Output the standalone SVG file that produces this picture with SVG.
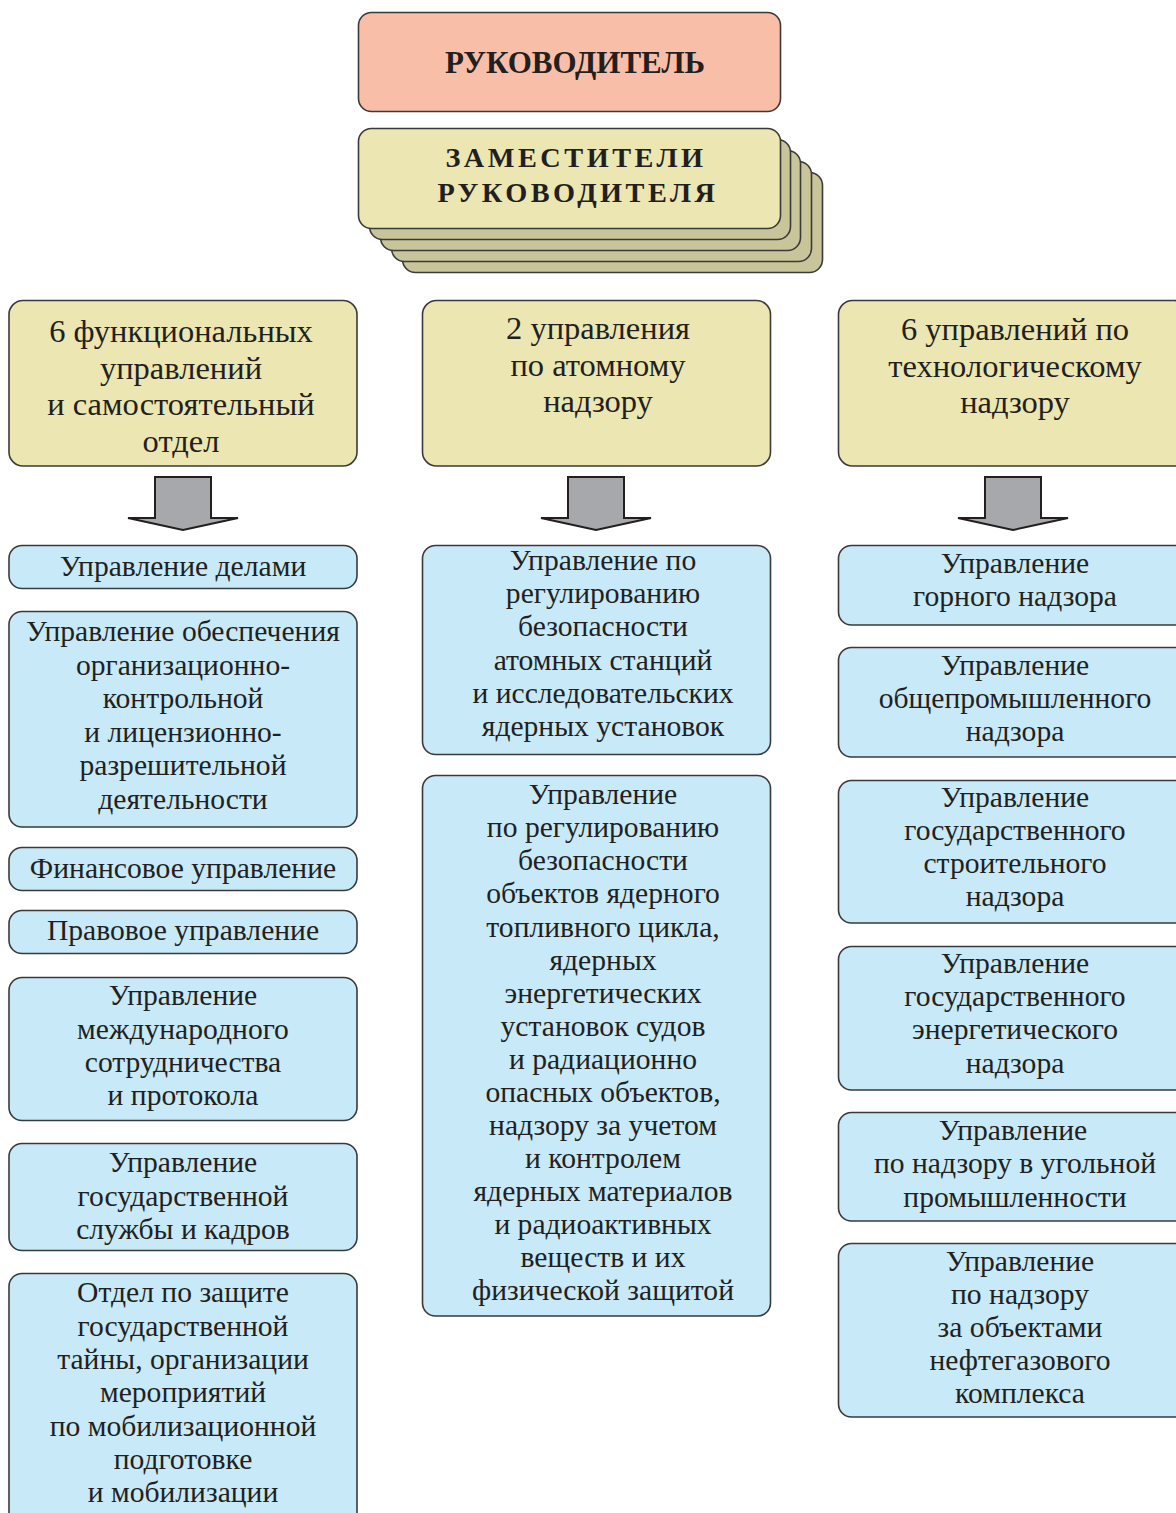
<svg xmlns="http://www.w3.org/2000/svg" width="1176" height="1513" viewBox="0 0 1176 1513">
<style>
.box{stroke:#3a3a3a;stroke-width:1.6}
.blue{fill:#c7e9f8}
.yel{fill:#ebe6b2}
.yel2{fill:#c9c59a}
.pink{fill:#f8bea8}
text{font-family:"Liberation Serif","Times New Roman",serif;fill:#231f20;text-anchor:middle}
.t{font-size:29.6px}
.h{font-size:32.5px}
.b{font-weight:bold}
.arrow{fill:#a7a8ab;stroke:#231f20;stroke-width:2;stroke-linejoin:miter}
</style>
<rect width="1176" height="1513" fill="#ffffff"/>

<g id="head">
<rect class="box pink" x="358.5" y="12.5" width="422" height="99" rx="13"/>
<text class="b" x="575" y="73" font-size="31">РУКОВОДИТЕЛЬ</text>
</g>

<g id="deputies">
<rect class="box yel2" x="402.5" y="172.5" width="420" height="100" rx="13"/>
<rect class="box yel2" x="391.5" y="161.5" width="420" height="100" rx="13"/>
<rect class="box yel2" x="380.5" y="150.5" width="420" height="100" rx="13"/>
<rect class="box yel2" x="369.5" y="139.5" width="421" height="100" rx="13"/>
<rect class="box yel" x="358.5" y="128.5" width="422" height="100" rx="13"/>
<text class="b" x="576" y="167" font-size="28.3" letter-spacing="3.5">ЗАМЕСТИТЕЛИ</text>
<text class="b" x="578" y="202" font-size="28.3" letter-spacing="3.5">РУКОВОДИТЕЛЯ</text>
</g>

<g id="group-functional">
<rect class="box yel" x="9" y="300.5" width="348" height="165.5" rx="14"/>
<text class="h" x="181"><tspan x="181" y="342">6 функциональных</tspan><tspan x="181" y="378.5">управлений</tspan><tspan x="181" y="415">и самостоятельный</tspan><tspan x="181" y="451.5">отдел</tspan></text>
</g>

<g id="group-atomic">
<rect class="box yel" x="422.5" y="300.5" width="348" height="165.5" rx="14"/>
<text class="h" x="598"><tspan x="598" y="339">2 управления</tspan><tspan x="598" y="375.5">по атомному</tspan><tspan x="598" y="412">надзору</tspan></text>
</g>

<g id="group-tech">
<rect class="box yel" x="838.5" y="300.5" width="350" height="165.5" rx="14"/>
<text class="h" x="1015"><tspan x="1015" y="340">6 управлений по</tspan><tspan x="1015" y="376.5">технологическому</tspan><tspan x="1015" y="413">надзору</tspan></text>
</g>

<g id="connectors">
<polygon class="arrow" points="155,477 211,477 211,518 238,518 183,530 128,518 155,518"/>
<polygon class="arrow" points="568,477 624,477 624,518 651,518 596,530 541,518 568,518"/>
<polygon class="arrow" points="985,477 1041,477 1041,518 1068,518 1013,530 958,518 985,518"/>
</g>

<g id="l1">
<rect class="box blue" x="9" y="545.5" width="348" height="43" rx="13"/>
<text class="t" x="183" y="576">Управление делами</text>
</g>
<g id="l2">
<rect class="box blue" x="9" y="611.5" width="348" height="215.5" rx="13"/>
<text class="t"><tspan x="183" y="641">Управление обеспечения</tspan><tspan x="183" y="674.5">организационно-</tspan><tspan x="183" y="708">контрольной</tspan><tspan x="183" y="741.5">и лицензионно-</tspan><tspan x="183" y="775">разрешительной</tspan><tspan x="183" y="808.5">деятельности</tspan></text>
</g>
<g id="l3">
<rect class="box blue" x="9" y="847.5" width="348" height="43" rx="13"/>
<text class="t" x="183" y="878">Финансовое управление</text>
</g>
<g id="l4">
<rect class="box blue" x="9" y="910.5" width="348" height="43" rx="13"/>
<text class="t" x="183" y="940">Правовое управление</text>
</g>
<g id="l5">
<rect class="box blue" x="9" y="977.5" width="348" height="143" rx="13"/>
<text class="t"><tspan x="183" y="1005">Управление</tspan><tspan x="183" y="1038.5">международного</tspan><tspan x="183" y="1071.5">сотрудничества</tspan><tspan x="183" y="1105">и протокола</tspan></text>
</g>
<g id="l6">
<rect class="box blue" x="9" y="1143.5" width="348" height="107" rx="13"/>
<text class="t"><tspan x="183" y="1172">Управление</tspan><tspan x="183" y="1205.5">государственной</tspan><tspan x="183" y="1239">службы и кадров</tspan></text>
</g>
<g id="l7">
<rect class="box blue" x="9" y="1273.5" width="348" height="260" rx="13"/>
<text class="t"><tspan x="183" y="1302">Отдел по защите</tspan><tspan x="183" y="1335.5">государственной</tspan><tspan x="183" y="1369">тайны, организации</tspan><tspan x="183" y="1402">мероприятий</tspan><tspan x="183" y="1435.5">по мобилизационной</tspan><tspan x="183" y="1469">подготовке</tspan><tspan x="183" y="1502">и мобилизации</tspan></text>
</g>

<g id="m1">
<rect class="box blue" x="422.5" y="545.5" width="348" height="209" rx="13"/>
<text class="t"><tspan x="603" y="570">Управление по</tspan><tspan x="603" y="603">регулированию</tspan><tspan x="603" y="636">безопасности</tspan><tspan x="603" y="669.5">атомных станций</tspan><tspan x="603" y="703">и исследовательских</tspan><tspan x="603" y="736">ядерных установок</tspan></text>
</g>
<g id="m2">
<rect class="box blue" x="422.5" y="775.5" width="348" height="540.5" rx="13"/>
<text class="t"><tspan x="603" y="804">Управление</tspan><tspan x="603" y="837">по регулированию</tspan><tspan x="603" y="870">безопасности</tspan><tspan x="603" y="903">объектов ядерного</tspan><tspan x="603" y="936.5">топливного цикла,</tspan><tspan x="603" y="969.5">ядерных</tspan><tspan x="603" y="1002.5">энергетических</tspan><tspan x="603" y="1035.5">установок судов</tspan><tspan x="603" y="1068.5">и радиационно</tspan><tspan x="603" y="1101.5">опасных объектов,</tspan><tspan x="603" y="1135">надзору за учетом</tspan><tspan x="603" y="1168">и контролем</tspan><tspan x="603" y="1201">ядерных материалов</tspan><tspan x="603" y="1234">и радиоактивных</tspan><tspan x="603" y="1267">веществ и их</tspan><tspan x="603" y="1300">физической защитой</tspan></text>
</g>

<g id="r1">
<rect class="box blue" x="838.5" y="545.5" width="350" height="79.5" rx="13"/>
<text class="t"><tspan x="1015" y="572.5">Управление</tspan><tspan x="1015" y="606">горного надзора</tspan></text>
</g>
<g id="r2">
<rect class="box blue" x="838.5" y="647.5" width="350" height="109.5" rx="13"/>
<text class="t"><tspan x="1015" y="675">Управление</tspan><tspan x="1015" y="708">общепромышленного</tspan><tspan x="1015" y="741">надзора</tspan></text>
</g>
<g id="r3">
<rect class="box blue" x="838.5" y="780.5" width="350" height="142.5" rx="13"/>
<text class="t"><tspan x="1015" y="807">Управление</tspan><tspan x="1015" y="840">государственного</tspan><tspan x="1015" y="873">строительного</tspan><tspan x="1015" y="906">надзора</tspan></text>
</g>
<g id="r4">
<rect class="box blue" x="838.5" y="946.5" width="350" height="143.5" rx="13"/>
<text class="t"><tspan x="1015" y="973">Управление</tspan><tspan x="1015" y="1006">государственного</tspan><tspan x="1015" y="1039">энергетического</tspan><tspan x="1015" y="1072.5">надзора</tspan></text>
</g>
<g id="r5">
<rect class="box blue" x="838.5" y="1112.5" width="350" height="108.5" rx="13"/>
<text class="t"><tspan x="1013" y="1140">Управление</tspan><tspan x="1015" y="1173">по надзору в угольной</tspan><tspan x="1015" y="1206.5">промышленности</tspan></text>
</g>
<g id="r6">
<rect class="box blue" x="838.5" y="1243.5" width="350" height="173.5" rx="13"/>
<text class="t"><tspan x="1020" y="1270.5">Управление</tspan><tspan x="1020" y="1304">по надзору</tspan><tspan x="1020" y="1337">за объектами</tspan><tspan x="1020" y="1370">нефтегазового</tspan><tspan x="1020" y="1403">комплекса</tspan></text>
</g>
</svg>
